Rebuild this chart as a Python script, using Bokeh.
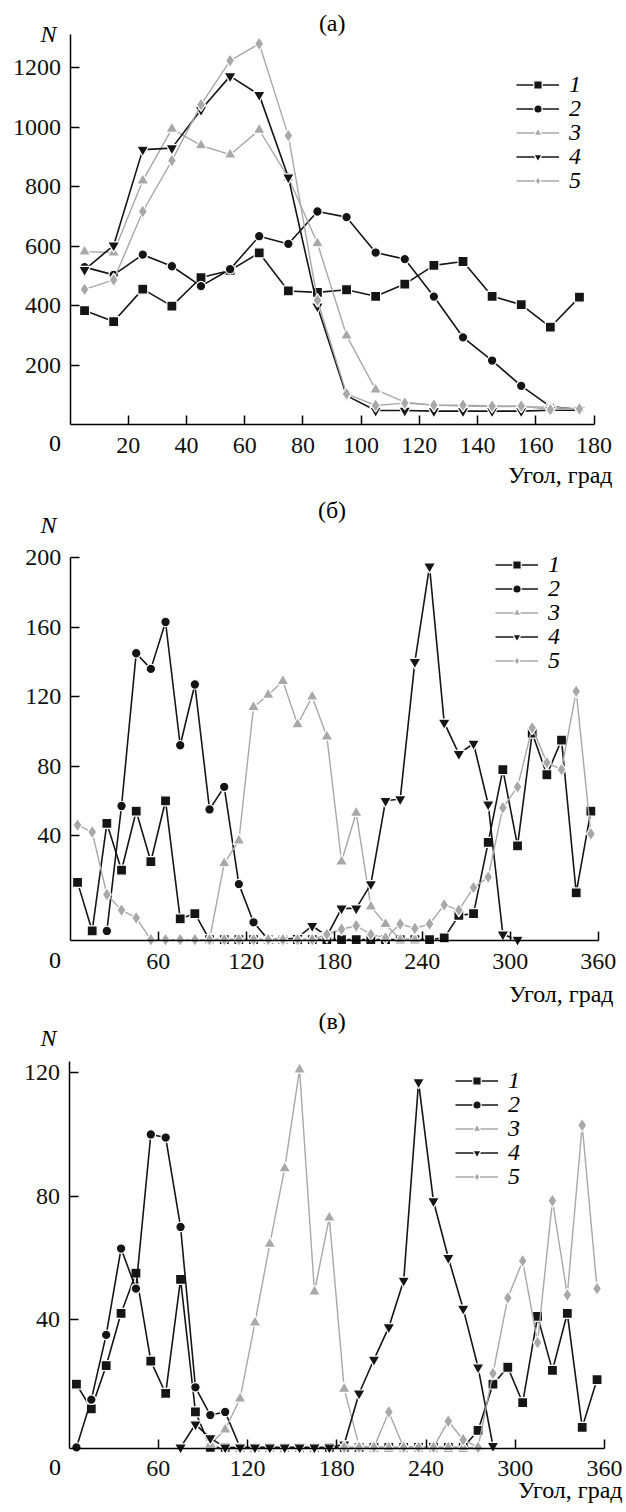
from bokeh.plotting import figure
from bokeh.layouts import column
from bokeh.models import Range1d, FixedTicker, Label, Legend, LegendItem
from bokeh.embed import file_html
from bokeh.resources import INLINE

FONT = "Liberation Serif"
BLACK = "#151515"
GRAY = "#a8a8a8"
PAGE_W = 626

# ---------------- panel (а) ----------------
ANGLE_A = [5, 15, 25, 35, 45, 55, 65, 75, 85, 95, 105, 115, 125, 135, 145, 155, 165, 175]
A1 = [383, 346, 455, 398, 494, 518, 577, 449, 444, 453, 431, 472, 535, 548, 431, 403, 327, 428]
A2 = [529, 503, 571, 532, 465, 522, 633, 607, 716, 697, 578, 556, 430, 293, 215, 130, 60, 50]
A3 = [581, 578, 820, 994, 938, 907, 990, 830, 609, 299, 117, 75, 65, 62, 60, 60, 58, 52]
A4 = [520, 602, 924, 929, 1058, 1171, 1108, 831, 397, 97, 47, 47, 45, 45, 45, 45, 48, 48]
A5 = [454, 486, 716, 887, 1075, 1223, 1280, 971, 417, 103, 64, 72, 65, 65, 62, 62, 50, 52]

# ---------------- panel (б) ----------------
ANGLE_B = [5, 15, 25, 35, 45, 55, 65, 75, 85, 95, 105, 115, 125, 135, 145, 155, 165, 175,
           185, 195, 205, 215, 225, 235, 245, 255, 265, 275, 285, 295, 305, 315, 325, 335, 345, 355]
B1 = [13, -15, 47, 20, 54, 25, 60, -8, -5,
      -20, -20, -20, -20, -20, -20, -20, -20, -20, -20, -20, -20, -20, -20, -20, -20,
      -19, -6, -5, 36, 78, 34, 99, 75, 95, 7, 54]
B2_ANGLE = [25, 35, 45, 55, 65, 75, 85, 95, 105, 115, 125, 135, 145]
B2 = [-15, 57, 145, 136, 163, 92, 127, 55, 68, 12, -10, -20, -20]
B3_ANGLE = [95, 105, 115, 125, 135, 145, 155, 165, 175, 185, 195, 205, 215, 225, 235]
B3 = [-20, 24, 37, 114, 121, 129, 104, 120, 97, 25, 53, -1, -11, -20, -20]
B4_ANGLE = [145, 155, 165, 175, 185, 195, 205, 215, 225, 235, 245, 255, 265, 275, 285, 295, 305]
B4 = [-20, -19, -12, -18, -2, -2, 12, 60, 61, 140, 195, 105, 87, 93, 58, -17, -20]
B5 = [46, 42, 6, -3, -7.5,
      -20, -20, -20, -20, -20, -20, -20, -20, -20, -20, -20, -20,
      -17, -14, -12, -17, -19, -11, -13.5, -11, 0, -3, 10, 16, 56, 68, 102, 82, 78, 123, 41]

# ---------------- panel (в) ----------------
ANGLE_C = ANGLE_B
C1 = [19, 11, 25, 42, 55, 26.5, 16, 53, 10, -1.5,
      -1.5, -1.5, -1.5, -1.5, -1.5, -1.5, -1.5, -1.5, -1.5, -1.5, -1.5, -1.5, -1.5, -1.5, -1.5, -1.5, -1.5,
      4, 19, 24.5, 13, 41, 23.5, 42, 5, 20.5]
C2_ANGLE = [5, 15, 25, 35, 45, 55, 65, 75, 85, 95, 105, 115, 125, 135, 145, 155, 165]
C2 = [-1.5, 14, 35, 63, 50, 100, 99, 70, 18, 9, 10, -1.5, -1.5, -1.5, -1.5, -1.5, -1.5]
C3_ANGLE = [95, 105, 115, 125, 135, 145, 155, 165, 175, 185, 195, 205, 215, 225, 235, 245, 255, 265, 275]
C3 = [-0.5, 4.3, 14.3, 39, 64.5, 89, 121, 49, 73, 17.5, -1, -1.5, -1.5, -1.5, -1.5, -1.5, -1.5, -1.5, -1.5]
C4_ANGLE = [75, 85, 95, 105, 115, 125, 135, 145, 155, 165, 175, 185, 195, 205, 215, 225, 235, 245,
            255, 265, 275, 285]
C4 = [-1.5, 6, 1.5, -1.5, -1.5, -1.5, -1.5, -1.5, -1.5, -1.5, -1.5, -0.5, 16, 27, 37.5, 52.6, 117,
      78.4, 60, 43.5, 24.5, -1]
C5_ANGLE = [185, 195, 205, 215, 225, 235, 245, 255, 265, 275, 285, 295, 305, 315, 325, 335, 345, 355]
C5 = [-1.5, -1.5, -1.5, 10, -1.5, -1.5, -1.5, 7, 1, -1.5, 22.5, 47, 59, 32.5, 78.5, 48, 103, 50]

SERIES_NAMES = ["1", "2", "3", "4", "5"]
X_TICKS_A = [20, 40, 60, 80, 100, 120, 140, 160, 180]
Y_TICKS_A = [200, 400, 600, 800, 1000, 1200]
X_TICKS_BC = [60, 120, 180, 240, 300, 360]
Y_TICKS_B = [40, 80, 120, 160, 200]
Y_TICKS_C = [40, 80, 120]

STYLE = [
    ("square", BLACK, 10),
    ("circle", BLACK, 9.5),
    ("triangle", GRAY, 12),
    ("inverted_triangle", BLACK, 12),
    ("diamond", GRAY, 13.5),
]

LEG_HALF = 13.5
MID_SHIFT = 2.5   # "middle" baseline renders slightly low


def lin(pa, va, pb, vb):
    k = (vb - va) / (pb - pa)
    return lambda px: va + (px - pa) * k


def add_label(p, x, y, text, align, italic=False):
    p.add_layout(Label(x=x, y=y, text=text,
                       text_font=FONT, text_font_size="24px",
                       text_font_style="italic" if italic else "normal",
                       text_align=align, text_baseline="middle", text_color="black"))


def make_panel(top, height, fx, fy, xb, yb, xticks, yticks, series, title, title_px,
               n_px, zero_px, xlab_px, leg_x, leg_rows):
    bottom = top + height
    p = figure(width=PAGE_W, height=height, output_backend="svg", toolbar_location=None,
               x_range=Range1d(fx(0), fx(PAGE_W)), y_range=Range1d(fy(bottom), fy(top)),
               min_border=0)
    p.outline_line_color = None
    p.xgrid.visible = False
    p.ygrid.visible = False
    p.background_fill_color = "white"
    p.border_fill_color = "white"
    p.xaxis.fixed_location = yb[0]
    p.yaxis.fixed_location = xb[0]
    p.xaxis.bounds = xb
    p.yaxis.bounds = yb
    for ax, ticks, standoff in ((p.xaxis[0], xticks, 13), (p.yaxis[0], yticks, 9)):
        ax.ticker = FixedTicker(ticks=ticks)
        ax.axis_line_color = "black"
        ax.axis_line_width = 1.5
        ax.major_tick_line_color = "black"
        ax.major_tick_line_width = 1.5
        ax.major_tick_in = 9
        ax.major_tick_out = 0
        ax.minor_tick_in = 0
        ax.minor_tick_out = 0
        ax.major_label_text_font = FONT
        ax.major_label_text_font_size = "24px"
        ax.major_label_text_color = "#111111"
        ax.major_label_standoff = standoff

    rends = []
    for (xs, ys), (marker, color, size) in zip(series, STYLE):
        lr = p.line(xs, ys, line_color=color, line_width=1.6 if color == BLACK else 1.4)
        sr = p.scatter(xs, ys, marker=marker, size=size, fill_color=color,
                       line_color="white", line_width=1.2)
        rends.append((lr, sr))

    for name, (lr, sr), row in zip(SERIES_NAMES, rends, leg_rows):
        leg = Legend(items=[LegendItem(label=name, renderers=[lr, sr])],
                     location=(leg_x, round(bottom - row - LEG_HALF)),
                     orientation="vertical", padding=0, margin=0, spacing=0,
                     glyph_width=43, glyph_height=21, label_height=20, label_standoff=10,
                     label_text_font=FONT, label_text_font_size="24px",
                     label_text_font_style="italic", label_text_color="black",
                     background_fill_alpha=0, border_line_alpha=0)
        p.add_layout(leg)

    def at(px, py):
        return fx(px), fy(py - MID_SHIFT)

    add_label(p, *at(*title_px), title, "center")
    add_label(p, *at(*n_px), "N", "center", italic=True)
    add_label(p, *at(*zero_px), "0", "right")
    add_label(p, *at(*xlab_px), "Угол, град", "right")
    return p


fxa, fya = lin(69.5, 0, 593.5, 180), lin(424, 0, 34, 1311)
fxb, fyb = lin(69.7, 0, 597.7, 360), lin(835, 40, 557.3, 200)
fxc, fyc = lin(68.5, 0, 604, 360), lin(1442.3, 0, 1072.3, 120)

pa = make_panel(0, 492, fxa, fya, (0, 180), (0, 1311), X_TICKS_A, Y_TICKS_A,
                [(ANGLE_A, A1), (ANGLE_A, A2), (ANGLE_A, A3), (ANGLE_A, A4), (ANGLE_A, A5)],
                "(а)", (331.7, 25), (48, 36), (60.5, 445.5), (612, 477),
                516, [84, 108, 132, 156, 180])

pb = make_panel(492, 516, fxb, fyb, (0, 360), (round(fyb(940), 1), 200), X_TICKS_BC, Y_TICKS_B,
                [(ANGLE_B, B1), (B2_ANGLE, B2), (B3_ANGLE, B3), (B4_ANGLE, B4), (ANGLE_B, B5)],
                "(б)", (331.5, 511.7), (48, 526.7), (60.5, 962), (613, 996),
                495, [564, 588, 612, 636, 660])

pc = make_panel(1008, 504, fxc, fyc, (0, 360), (round(fyc(1447.7), 2), round(fyc(1061), 1)),
                X_TICKS_BC, Y_TICKS_C,
                [(ANGLE_C, C1), (C2_ANGLE, C2), (C3_ANGLE, C3), (C4_ANGLE, C4), (C5_ANGLE, C5)],
                "(в)", (331.7, 1023), (48, 1040), (60.5, 1469), (622, 1492),
                455, [1080, 1104, 1128, 1152, 1176])

layout = column(pa, pb, pc, spacing=0)
open("out.html", "w").write(file_html(layout, INLINE))
